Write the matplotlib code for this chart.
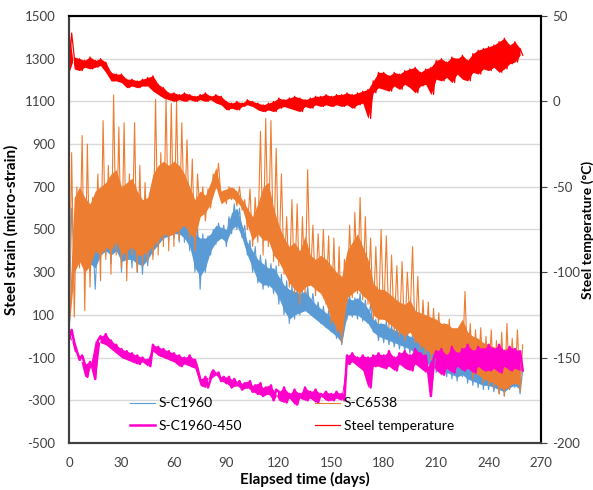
import numpy as np
import matplotlib
matplotlib.use("Agg")
import matplotlib.pyplot as plt

plt.rcParams['font.family'] = ['Lato', 'DejaVu Sans']
plt.rcParams['axes.unicode_minus'] = False

# readings every 1.5 days, alternating between the high and low side of the daily swing
sample_step = 1.5
# dense part of the strain band, every 3 days
core_step = 3.0

strain_c1960 = [
    30, 600, 380, 560, 420, 580, 330, 520, 300, 480, 220, 500, 360, 620, 380, 560, 340, 650, 400, 600,
    300, 560, 340, 540, 320, 600, 300, 520, 290, 500, 330, 520, 380, 580, 420, 620, 450, 600, 440, 660,
    460, 720, 440, 700, 440, 640, 400, 560, 300, 520, 220, 480, 300, 470, 380, 500, 430, 530, 460, 520,
    420, 560, 480, 620, 500, 600, 460, 520, 380, 450, 300, 420, 250, 380, 220, 360, 230, 340, 200, 330,
    150, 290, 100, 260, 60, 240, 80, 220, 100, 210, 120, 230, 110, 200, 90, 160, 60, 140, 40, 120,
    20, 100, -10, 80, -40, 60, 80, 190, 90, 180, 80, 200, 70, 170, 60, 150, 20, 80, -20, 60,
    -30, 70, -40, 50, -50, 40, -60, 30, -70, 20, -80, 10, -100, 0, -120, -20, -140, -30, -160, -40,
    -170, -60, -180, -80, -190, -70, -200, -90, -210, -80, -190, -60, -220, -100, -230, -110, -240, -120, -250, -130,
    -250, -140, -260, -150, -270, -150, -280, -140, -250, -150, -240, -140, -270, -160,
]
c1960_core_lo = [
    30, 420, 400, 360, 340, 320, 380, 400, 380, 400, 350, 360, 360, 340, 330, 360, 400, 430, 460, 470,
    480, 480, 460, 420, 320, 280, 320, 400, 440, 460, 440, 500, 520, 460, 380, 320, 260, 240, 240, 220,
    180, 120, 80, 100, 110, 120, 100, 80, 60, 40, 20, 0, -30, 100, 100, 100, 80, 60, 20, 0,
    -10, -20, -30, -40, -50, -60, -80, -100, -120, -140, -150, -160, -170, -180, -190, -180, -200, -210, -220, -230,
    -230, -240, -250, -260, -240, -230, -250,
]
c1960_core_hi = [
    80, 560, 560, 520, 500, 480, 560, 580, 560, 600, 540, 540, 560, 500, 480, 500, 560, 600, 620, 620,
    660, 680, 640, 560, 480, 460, 460, 480, 520, 510, 500, 580, 600, 520, 440, 400, 360, 340, 320, 320,
    280, 240, 220, 210, 200, 210, 180, 150, 130, 110, 90, 70, 50, 180, 170, 180, 160, 130, 80, 60,
    60, 40, 30, 20, 10, 0, -10, -30, -40, -50, -60, -80, -80, -90, -90, -80, -100, -110, -120, -130,
    -130, -140, -150, -150, -140, -140, -150,
]

strain_c6538 = [
    30, 860, 90, 700, 320, 940, 120, 900, 230, 650, 400, 760, 260, 1010, 360, 800, 290, 1130, 380, 980,
    320, 1000, 260, 760, 380, 1000, 300, 800, 330, 720, 350, 650, 360, 1110, 380, 860, 420, 1120, 400, 1090,
    420, 1100, 450, 1000, 520, 920, 460, 830, 400, 760, 560, 700, 540, 690, 600, 760, 690, 810, 640, 680,
    620, 700, 640, 690, 610, 700, 590, 640, 500, 690, 420, 650, 440, 960, 380, 1020, 420, 1010, 350, 880,
    330, 760, 290, 560, 230, 640, 200, 620, 150, 560, 200, 780, 250, 520, 190, 480, 210, 500, 150, 470,
    60, 460, 20, 420, -30, 360, 160, 520, 180, 580, 200, 650, 170, 560, 150, 460, 80, 420, 60, 500,
    80, 470, 40, 380, 20, 330, 0, 350, -20, 300, 60, 420, -30, 280, -60, 170, -90, 160, -110, 130,
    -120, 110, -150, 60, -110, 80, -130, 20, -100, 40, -120, 210, -150, 60, -200, 30, -180, 40, -220, 0,
    -230, 30, -240, -20, -270, 20, -280, 60, -250, -10, -220, 30, -260, -40,
]
c6538_core_lo = [
    40, 300, 350, 300, 330, 400, 380, 420, 400, 450, 380, 400, 420, 380, 380, 400, 420, 450, 480, 470,
    480, 500, 520, 480, 460, 560, 580, 620, 700, 620, 640, 650, 630, 600, 520, 450, 480, 450, 450, 380,
    350, 300, 250, 220, 200, 230, 240, 220, 200, 150, 80, 40, 0, 180, 200, 220, 190, 170, 100, 80,
    80, 60, 40, 20, 0, 20, -20, -40, -60, -80, -90, -100, -100, -110, -100, -110, -140, -170, -180, -200,
    -210, -220, -240, -250, -230, -220, -230,
]
c6538_core_hi = [
    100, 650, 700, 650, 620, 680, 700, 720, 760, 780, 700, 720, 740, 680, 640, 650, 760, 800, 820, 800,
    820, 800, 760, 700, 640, 680, 660, 720, 790, 680, 690, 700, 680, 640, 600, 560, 620, 700, 720, 600,
    520, 460, 420, 440, 400, 470, 380, 360, 380, 360, 330, 300, 280, 400, 440, 480, 420, 360, 250, 220,
    220, 200, 180, 160, 150, 170, 120, 110, 100, 90, 80, 60, 60, 40, 40, 80, 20, 0, -10, -30,
    -40, -50, -60, -60, -50, -60, -80,
]

strain_c1960_450 = [
    -10, 30, -30, -70, -110, -90, -130, -190, -120, -150, -200, -20, 0, -30, 10, -40, -20, -60, -40, -80,
    -60, -100, -70, -110, -80, -120, -90, -130, -100, -120, -110, -140, -40, -70, -50, -90, -60, -100, -70, -110,
    -80, -120, -90, -140, -100, -130, -90, -140, -110, -150, -200, -230, -190, -240, -200, -160, -180, -170, -210, -190,
    -220, -190, -240, -200, -230, -210, -250, -220, -240, -210, -260, -230, -270, -220, -280, -240, -270, -230, -300, -250,
    -260, -300, -240, -310, -270, -290, -250, -320, -270, -290, -240, -300, -260, -290, -250, -310, -270, -280, -260, -300,
    -270, -300, -260, -290, -270, -300, -90, -130, -80, -120, -100, -140, -90, -160, -100, -240, -90, -140, -80, -140,
    -90, -150, -70, -140, -100, -160, -80, -130, -70, -150, -90, -160, -60, -130, -80, -150, -90, -170, -280, -110,
    -70, -160, -60, -180, -90, -150, -50, -170, -80, -140, -60, -160, -40, -150, -70, -170, -50, -140, -60, -160,
    -40, -160, -60, -150, -40, -170, -70, -140, -50, -160, -60, -150, -70, -160,
]

steel_temp = [
    17, 40, 26, 19, 25, 18, 24, 20, 26, 19, 24, 20, 25, 21, 23, 17, 17, 12, 16, 12,
    16, 11, 13, 8, 13, 9, 12, 8, 13, 9, 14, 9, 15, 6, 10, 4, 8, 2, 5, 1,
    5, 0, 4, 1, 5, 0, 4, 1, 3, 0, 4, 1, 5, 0, 3, 1, 4, -1, 3, -2,
    0, -5, -1, -4, 0, -5, -1, -3, 1, -2, 0, -3, -1, -5, -2, -6, -1, -5, 0, -6,
    2, -4, 1, -3, 2, -4, 3, -5, 2, -6, 1, -3, 2, -4, 3, -2, 3, -3, 4, -2,
    3, -3, 4, -2, 4, -3, 5, -2, 4, -4, 5, -2, 6, -1, 7, -10, 12, 5, 17, 8,
    17, 7, 15, 6, 17, 9, 16, 7, 18, 10, 19, 8, 20, 5, 17, 9, 19, 10, 20, 4,
    24, 13, 25, 12, 23, 14, 26, 11, 25, 16, 27, 13, 24, 12, 28, 17, 30, 16, 31, 19,
    32, 18, 33, 20, 35, 17, 37, 19, 33, 22, 35, 23, 31, 27,
]

days = np.arange(len(strain_c1960)) * sample_step
core_days = np.arange(len(c1960_core_lo)) * core_step


def draw_swing(axis, values, color, lw, z):
    # the trace itself, plus the band swept between each high/low pair
    vals = np.asarray(values, dtype=float)
    n = len(vals) // 2 * 2
    axis.fill_between(days[0:n:2], vals[0:n:2], vals[1:n:2], color=color, lw=0, zorder=z)
    line, = axis.plot(days, vals, color=color, lw=lw, zorder=z)
    return line


fig = plt.figure(figsize=(5.93, 4.90), dpi=100)
ax = fig.add_axes([0.1164, 0.0959, 0.7960, 0.8715])
ax2 = ax.twinx()

blue, orange, magenta, red = '#5B9BD5', '#ED7D31', '#FF00CC', '#FF0000'

ax.fill_between(core_days, c1960_core_lo, c1960_core_hi, color=blue, lw=0, zorder=2.0)
l1, = ax.plot(days, strain_c1960, color=blue, lw=0.8, label='S-C1960', zorder=2.0)
ax.fill_between(core_days, c6538_core_lo, c6538_core_hi, color=orange, lw=0, zorder=2.1)
l2, = ax.plot(days, strain_c6538, color=orange, lw=0.8, label='S-C6538', zorder=2.1)
l3 = draw_swing(ax, strain_c1960_450, magenta, 1.8, 2.2)
l4 = draw_swing(ax2, steel_temp, red, 0.9, 2.0)
l3.set_label('S-C1960-450')
l4.set_label('Steel temperature')

ax.set_xlim(0, 270)
ax.set_xticks(np.arange(0, 271, 30))
ax.set_ylim(-500, 1500)
ax.set_yticks(np.arange(-500, 1501, 200))
ax2.set_ylim(-200, 50)
ax2.set_yticks(np.arange(-200, 51, 50))

ax.grid(axis='y', color='#D9D9D9', lw=1)
ax.set_axisbelow(True)
ax.tick_params(axis='y', length=0, labelsize=9.5, pad=10, colors='#404040')
ax.tick_params(axis='x', length=0, labelsize=9.5, pad=10, colors='#404040')
ax2.tick_params(axis='y', length=4, labelsize=9.5, pad=4, colors='#404040')
for sp in list(ax.spines.values()) + list(ax2.spines.values()):
    sp.set_color('#404040')
    sp.set_linewidth(1.5)
ax2.spines['right'].set_color('black')
ax2.spines['top'].set_color('black')

ax.set_xlabel('Elapsed time (days)', fontsize=11, fontweight='bold', labelpad=2)
ax.set_ylabel('Steel strain (micro-strain)', fontsize=11, fontweight='bold', labelpad=4)
ax2.set_ylabel('Steel temperature (°C)', fontsize=10, fontweight='bold')
ax2.yaxis.set_label_coords(1.086, 0.5)

ax2.legend(handles=[l1, l3, l2, l4], ncol=2, frameon=False, loc='lower left',
           bbox_to_anchor=(0.114, 0.01), fontsize=10, handlelength=1.8,
           handletextpad=0.25, columnspacing=5.3, labelspacing=0.75, borderpad=0)

fig.savefig('out.png', dpi=100)
